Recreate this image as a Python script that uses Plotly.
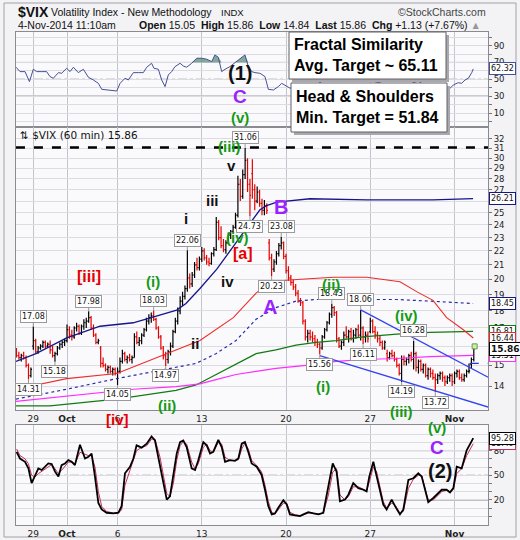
import numpy as np
import plotly.graph_objects as go

# ---------------- data ----------------
# trading sessions (0 = Mon 29-Sep-2014); 7 hourly bars per session, last session partial
session_day = list(range(-1, 27))
bars_per_session = [7] * 27 + [2]

bar_open = [
    15.6, 15.5, 15.4, 15.5, 15.4, 15.0, 14.5,
    16.0, 16.3, 15.7, 15.9, 16.0, 16.2, 16.0,
    16.1, 15.8, 15.5, 15.6, 15.9, 16.1, 16.2,
    16.3, 16.9, 16.6, 16.5, 17.0, 17.1, 16.7,
    17.1, 17.3, 17.4, 17.6, 17.0, 16.6, 16.2,
    15.9, 15.1, 15.0, 14.8, 14.9, 14.7, 14.8,
    14.6, 14.7, 15.2, 15.6, 15.3, 15.4, 15.3,
    15.4, 16.5, 16.2, 16.3, 16.6, 16.9, 17.4,
    17.6, 17.7, 17.5, 17.0, 16.5, 15.9, 15.5,
    15.3, 15.7, 16.0, 16.8, 17.4, 18.0, 18.6,
    18.9, 19.4, 20.1, 19.7, 20.3, 21.0, 20.8,
    21.4, 22.0, 21.5, 21.2, 21.1, 21.8, 22.1,
    24.2, 23.0, 22.4, 22.1, 22.6, 23.2, 23.5,
    23.8, 24.8, 27.5, 26.4, 28.4, 29.8, 27.5,
    28.5, 27.0, 26.0, 26.8, 25.8, 25.2, 25.6,
    22.6, 21.5, 20.7, 21.2, 21.8, 22.4, 22.6,
    21.6, 20.6, 20.1, 19.8, 19.5, 19.1, 18.6,
    18.5, 17.4, 16.5, 16.7, 16.5, 16.4, 16.2,
    16.1, 15.9, 16.5, 16.9, 17.3, 17.8, 18.2,
    17.9, 16.4, 16.0, 16.2, 16.6, 16.5, 16.8,
    16.4, 16.6, 16.9, 16.6, 17.0, 16.5, 16.6,
    16.8, 17.4, 16.8, 16.6, 16.4, 16.2, 15.9,
    15.6, 15.4, 15.6, 15.5, 15.3, 15.0, 14.6,
    15.3, 15.2, 15.3, 15.5, 15.3, 15.6, 14.9,
    15.2, 14.8, 15.0, 14.5, 14.8, 14.6, 14.4,
    14.3, 14.5, 14.6, 14.4, 14.2, 14.4, 14.5,
    14.2, 14.6, 14.7, 14.4, 14.3, 14.5, 14.7,
    15.05, 15.3,
]
bar_high = [
    15.9, 15.7, 15.6, 15.7, 15.5, 15.1, 14.9,
    17.08, 16.4, 16.0, 16.1, 16.3, 16.3, 16.2,
    16.3, 16.0, 15.7, 16.0, 16.2, 16.3, 16.4,
    17.2, 17.1, 16.9, 17.1, 17.3, 17.2, 17.2,
    17.5, 17.6, 17.98, 17.7, 17.2, 16.7, 16.4,
    16.0, 15.4, 15.1, 15.0, 15.0, 14.9, 14.9,
    14.9, 15.4, 15.8, 15.7, 15.5, 15.6, 15.5,
    16.7, 16.8, 16.5, 16.7, 17.0, 17.6, 17.8,
    17.9, 18.03, 17.6, 17.1, 16.6, 16.0, 15.7,
    15.8, 16.2, 16.9, 17.6, 18.2, 18.9, 19.2,
    19.6, 22.06, 20.4, 20.5, 21.2, 21.5, 21.6,
    22.3, 22.2, 21.7, 21.5, 21.9, 22.3, 24.65,
    24.4, 23.9, 22.9, 22.8, 23.4, 23.6, 24.0,
    25.0, 28.3, 28.0, 28.9, 31.06, 30.0, 28.0,
    29.9, 27.5, 27.3, 27.0, 26.2, 26.1, 25.8,
    22.9, 21.8, 21.4, 22.0, 22.6, 23.08, 22.7,
    21.8, 20.9, 20.3, 20.0, 19.7, 19.3, 18.8,
    18.6, 17.5, 16.9, 16.9, 16.8, 16.6, 16.4,
    16.2, 16.6, 17.0, 17.4, 17.9, 18.43, 18.3,
    18.0, 16.5, 16.3, 16.8, 17.1, 16.9, 17.0,
    16.9, 17.0, 17.2, 18.06, 17.1, 16.8, 16.8,
    17.6, 17.5, 17.1, 16.8, 16.6, 16.3, 16.3,
    15.8, 15.7, 15.8, 15.7, 15.4, 15.1, 15.5,
    15.5, 15.4, 15.6, 15.7, 16.28, 15.7, 15.3,
    15.3, 15.1, 15.1, 14.9, 14.9, 14.8, 14.6,
    14.6, 14.7, 14.7, 14.5, 14.5, 14.6, 14.6,
    14.7, 14.8, 14.8, 14.6, 14.6, 14.8, 15.1,
    15.4, 15.86,
]
bar_low = [
    15.4, 15.3, 15.2, 15.3, 14.9, 14.31, 14.4,
    15.8, 15.6, 15.6, 15.8, 15.9, 15.9, 15.9,
    15.6, 15.4, 15.18, 15.5, 15.8, 15.9, 16.0,
    16.2, 16.4, 16.3, 16.4, 16.8, 16.6, 16.6,
    16.9, 17.0, 17.3, 16.9, 16.5, 16.1, 16.1,
    14.9, 14.9, 14.7, 14.6, 14.6, 14.5, 14.5,
    14.05, 14.6, 15.1, 15.2, 15.1, 15.2, 15.1,
    15.4, 16.1, 16.0, 16.1, 16.5, 16.8, 17.2,
    17.3, 17.4, 16.9, 16.4, 15.8, 15.3, 14.97,
    15.1, 15.5, 15.9, 16.7, 17.2, 17.8, 18.3,
    18.7, 19.2, 19.4, 19.5, 20.1, 20.6, 20.6,
    21.2, 21.3, 21.0, 20.9, 21.0, 21.6, 22.0,
    22.8, 22.2, 21.9, 21.8, 22.5, 22.9, 23.3,
    23.7, 24.6, 26.0, 26.2, 28.0, 26.8, 24.73,
    26.2, 25.2, 25.8, 25.5, 24.8, 24.8, 24.9,
    21.3, 20.23, 20.5, 21.0, 21.6, 22.1, 21.4,
    20.4, 19.9, 19.6, 19.3, 18.9, 18.5, 18.3,
    17.2, 16.3, 16.2, 16.3, 16.2, 16.0, 15.9,
    15.56, 15.8, 16.4, 16.8, 17.2, 17.6, 17.7,
    16.2, 15.9, 15.8, 16.0, 16.4, 16.2, 16.3,
    16.2, 16.4, 16.5, 16.3, 16.11, 16.2, 16.2,
    16.7, 16.7, 16.4, 16.2, 16.0, 15.8, 15.8,
    15.2, 15.3, 15.4, 15.2, 14.9, 14.5, 14.19,
    15.0, 15.0, 15.1, 15.2, 14.8, 14.7, 14.6,
    14.7, 14.6, 14.4, 14.3, 14.4, 14.3, 13.72,
    14.1, 14.3, 14.2, 14.0, 14.1, 14.2, 14.0,
    14.1, 14.4, 14.3, 14.2, 14.2, 14.4, 14.6,
    14.84, 15.2,
]
bar_close = [
    15.5, 15.4, 15.5, 15.4, 15.0, 14.5, 14.8,
    16.3, 15.7, 15.9, 16.0, 16.2, 16.0, 16.1,
    15.8, 15.5, 15.6, 15.9, 16.1, 16.2, 16.3,
    16.9, 16.6, 16.5, 17.0, 17.1, 16.7, 17.1,
    17.3, 17.4, 17.6, 17.0, 16.6, 16.2, 16.3,
    15.1, 15.0, 14.8, 14.9, 14.7, 14.8, 14.6,
    14.7, 15.2, 15.6, 15.3, 15.4, 15.3, 15.4,
    16.5, 16.2, 16.3, 16.6, 16.9, 17.4, 17.6,
    17.7, 17.5, 17.0, 16.5, 15.9, 15.5, 15.3,
    15.7, 16.0, 16.8, 17.4, 18.0, 18.6, 18.9,
    19.4, 20.1, 19.7, 20.3, 21.0, 20.8, 21.4,
    22.0, 21.5, 21.2, 21.1, 21.8, 22.1, 24.2,
    23.0, 22.4, 22.1, 22.6, 23.2, 23.5, 23.8,
    24.8, 27.5, 26.4, 28.4, 29.8, 27.5, 26.5,
    27.0, 26.0, 26.8, 25.8, 25.2, 25.6, 25.2,
    21.5, 20.7, 21.2, 21.8, 22.4, 22.6, 21.6,
    20.6, 20.1, 19.8, 19.5, 19.1, 18.6, 18.5,
    17.4, 16.5, 16.7, 16.5, 16.4, 16.2, 16.1,
    15.9, 16.5, 16.9, 17.3, 17.8, 18.2, 17.9,
    16.4, 16.0, 16.2, 16.6, 16.5, 16.8, 16.4,
    16.6, 16.9, 16.6, 17.0, 16.5, 16.6, 16.4,
    17.4, 16.8, 16.6, 16.4, 16.2, 15.9, 16.2,
    15.4, 15.6, 15.5, 15.3, 15.0, 14.6, 15.3,
    15.2, 15.3, 15.5, 15.3, 15.6, 14.9, 15.2,
    14.8, 15.0, 14.5, 14.8, 14.6, 14.4, 14.3,
    14.5, 14.6, 14.4, 14.2, 14.4, 14.5, 14.2,
    14.6, 14.7, 14.4, 14.3, 14.5, 14.7, 14.73,
    15.3, 15.86,
]

# moving averages on price panel (day, value)
ma_blue_day = [-1.03, 0.16, 1.98, 3.96, 5.93, 7.12, 8.51, 9.06, 9.89, 10.89, 11.87, 12.86, 13.45, 13.85, 14.45, 16.42, 19.79, 23.72, 26.10]
ma_blue_val = [15.2, 15.6, 16.45, 17.1, 17.3, 17.65, 18.05, 18.45, 19.4, 20.7, 22.35, 24.1, 25.25, 25.6, 25.9, 26.2, 26.1, 26.1, 26.21]
ma_red_day = [-1.03, 1.98, 4.95, 7.92, 9.89, 11.87, 13.22, 14.0, 15.0, 16.36, 17.81, 19.79, 21.76, 22.75, 23.72, 24.53, 25.52, 26.11]
ma_red_val = [13.85, 14.35, 14.6, 15.6, 16.3, 17.6, 19.1, 19.8, 19.95, 20.05, 20.15, 20.15, 19.85, 19.2, 18.65, 17.6, 16.9, 16.44]
ma_dot_day = [-1.03, 1.98, 4.95, 7.92, 9.66, 10.84, 12.03, 13.22, 14.40, 15.59, 16.78, 17.96, 21.57, 23.54, 26.10]
ma_dot_val = [13.4, 13.85, 14.35, 14.8, 15.1, 15.6, 16.3, 17.5, 18.2, 18.6, 18.7, 18.7, 18.7, 18.6, 18.45]
ma_green_day = [-1.03, 0.99, 4.95, 8.47, 9.66, 10.84, 12.03, 13.22, 14.40, 15.59, 16.78, 17.96, 19.57, 21.57, 23.54, 26.10]
ma_green_val = [13.1, 13.1, 13.4, 13.8, 14.05, 14.55, 15.05, 15.6, 15.8, 16.05, 16.2, 16.3, 16.5, 16.65, 16.75, 16.81]
ma_mag_day = [-1.03, 1.98, 5.92, 8.47, 9.89, 10.84, 12.03, 13.22, 14.40, 15.59, 16.78, 17.96, 19.57, 21.57, 23.54, 26.10]
ma_mag_val = [13.3, 13.55, 13.85, 13.97, 14.1, 14.3, 14.55, 14.7, 14.85, 14.95, 15.05, 15.2, 15.3, 15.35, 15.45, 15.51]

# drawn trend lines
chan_upper_day = [19.43, 26.99]
chan_upper_val = [18.06, 14.42]
chan_lower_day = [17.0, 26.99]
chan_lower_val = [15.5, 13.05]
break_day = [25.9, 26.99]
break_val = [15.1, 15.1]
target_day = [-1.03, 26.99]
target_val = [31.1, 31.1]

# RSI panel
rsi_day = [-1.02, -0.79, -0.49, -0.23, 0.00, 0.20, 0.50, 0.79, 0.99, 1.19, 1.49, 1.68, 1.98, 2.18, 2.38, 2.67,
           2.97, 3.27, 3.56, 3.86, 4.06, 4.35, 4.65, 4.95, 5.15, 5.44, 5.64, 5.94, 6.23, 6.53, 6.73, 7.02,
           7.16, 7.42, 7.62, 7.82, 8.01, 8.21, 8.41, 8.71, 8.90, 9.10, 9.40, 9.70, 9.99, 10.29, 10.59, 10.78,
           10.98, 11.18, 11.38, 11.67, 11.97, 12.23, 12.56, 12.76, 12.96, 13.16, 13.45, 13.75, 13.95, 14.25,
           14.54, 14.74, 15.04, 15.23, 15.83, 16.82, 17.81, 18.80, 19.78, 20.77, 21.76, 22.85, 23.74, 24.63,
           24.93, 25.22, 25.42, 25.62, 25.82, 26.02, 26.11]
rsi_val = [64.3, 59.1, 59.1, 47.2, 61.9, 59.1, 59.1, 59.1, 53.2, 51.2, 57.9, 57.1, 63.1, 59.1, 64.3, 57.9,
           61.9, 52.4, 49.2, 45.2, 38.1, 37.3, 36.5, 36.1, 45.2, 51.2, 49.2, 57.9, 57.9, 57.9, 64.3, 69.0,
           63.1, 61.9, 49.2, 41.3, 55.1, 59.1, 65.0, 69.0, 65.8, 64.3, 69.0, 75.0, 75.0, 73.8, 71.0, 78.9,
           76.1, 59.1, 61.9, 65.0, 69.8, 73.8, 78.9, 65.0, 59.1, 57.9, 57.1, 53.2, 38.1, 37.3,
           41.3, 45.2, 41.3, 39.5, 40.0, 44.0, 55.0, 48.0, 49.5, 45.0, 40.0, 48.0, 35.0, 37.3,
           43.3, 46.0, 45.2, 49.2, 51.2, 57.9, 62.32]

# stochastic panel
sto_day = [-0.99, -0.79, -0.49, -0.29, -0.10, 0.10, 0.30, 0.50, 0.69, 0.89,
           1.09, 1.29, 1.49, 1.68, 1.88, 2.08, 2.28, 2.47, 2.77, 3.07,
           3.27, 3.46, 3.66, 3.86, 4.06, 4.35, 4.75, 5.05, 5.24, 5.44,
           5.74, 5.94, 6.13, 6.43, 6.73, 7.02, 7.22, 7.52, 7.72, 7.92,
           8.11, 8.31, 8.51, 8.71, 8.90, 9.10, 9.40, 9.60, 9.79, 10.09,
           10.29, 10.49, 10.68, 10.98, 11.18, 11.38, 11.67, 11.97, 12.17, 12.37,
           12.56, 12.76, 12.96, 13.26, 13.55, 13.75, 13.95, 14.15, 14.34, 14.54,
           14.84, 15.04, 15.23, 15.53, 15.83, 16.03, 16.32, 16.62, 16.92, 17.21,
           17.51, 17.77, 18.00, 18.20, 18.50, 18.70, 18.99, 19.29, 19.59, 19.78,
           19.94, 20.18, 20.38, 20.58, 20.77, 20.97, 21.27, 21.47, 21.76, 21.96,
           22.26, 22.55, 22.85, 23.05, 23.25, 23.44, 23.74, 23.94, 24.24, 24.53,
           24.73, 24.93, 25.13, 25.42, 25.72, 26.11]
sto_k = [78.4, 70.4, 66.4, 58.4, 40.4, 50.4, 58.4, 56.4, 60.4, 64.4,
         63.6, 54.4, 48.4, 62.4, 64.4, 68.4, 66.4, 62.4, 87.2, 70.4,
         72.4, 76.4, 48.4, 16.4, 8.4, 4.4, 3.6, 4.4, 12.4, 52.4,
         60.4, 70.4, 86.4, 83.6, 88.4, 97.2, 92.4, 62.4, 44.4, 20.4,
         24.4, 48.4, 76.4, 90.4, 92.4, 84.4, 58.4, 56.4, 68.4, 90.4,
         86.4, 76.4, 78.4, 93.2, 84.4, 66.4, 68.4, 67.6, 70.4, 88.4,
         90.4, 78.4, 64.4, 60.4, 50.4, 32.4, 12.4, 2.4, 3.6, 10.4,
         19.6, 14.4, 2.4, 1.2, 0.4, 2.4, 5.2, 3.6, 2.4, 4.4,
         36.4, 64.4, 54.4, 18.4, 20.4, 26.4, 40.4, 34.4, 32.4, 30.4,
         48.4, 66.4, 48.4, 30.4, 14.4, 8.4, 20.4, 12.4, 2.4, 8.4,
         44.4, 46.4, 52.4, 48.4, 30.4, 17.2, 22.4, 26.4, 32.4, 32.4,
         29.2, 34.4, 60.4, 58.4, 80.4, 95.28]
sto_d = [82, 74, 70, 64, 50, 48, 52, 55, 58, 61,
         63, 58, 52, 56, 61, 66, 66, 64, 78, 76,
         74, 74, 60, 30, 12, 6, 4, 4, 8, 38,
         56, 66, 80, 84, 86, 94, 94, 72, 50, 28,
         24, 40, 68, 86, 91, 88, 66, 58, 64, 84,
         88, 80, 78, 90, 88, 72, 68, 68, 69, 82,
         89, 82, 68, 62, 54, 38, 18, 5, 3, 8,
         16, 16, 5, 2, 1, 2, 4, 4, 3, 4,
         26, 54, 58, 26, 20, 24, 36, 36, 33, 31,
         42, 60, 54, 36, 18, 10, 16, 14, 4, 6,
         34, 45, 50, 50, 36, 20, 20, 24, 30, 32,
         30, 33, 52, 58, 74, 88.49]

date_tick_day = [0, 2, 5, 10, 15, 20, 25]
date_tick_text = ["29", "<b>Oct</b>", "6", "13", "20", "27", "<b>Nov</b>"]
price_ticks = list(range(14, 33))
osc_ticks = list(range(0, 101, 10))
rsi_labels = [10, 30, 50, 70, 90]
sto_labels = [20, 50, 80]

high_labels = [17.08, 17.98, 18.03, 22.06, 31.06, 23.08, 18.43, 18.06, 16.28]
low_labels = [14.31, 15.18, 14.05, 14.97, 24.73, 20.23, 15.56, 16.11, 14.19, 13.72]

# ---------------- layout helpers ----------------
X_LO, X_HI = -1.027, 26.985
PW, PH = 472.0, 493.0


def PX(x):
    return (x - 16) / PW


def PY(y):
    return (525 - y) / PH


bar_x = [d + k / 7.0 for d, n in zip(session_day, bars_per_session) for k in range(n)]

GRID = "#dcdce2"
VGRID = "#c4c4cc"
FONT = "DejaVu Sans"
ARIAL = "Liberation Sans"

fig = go.Figure()

# ---- RSI panel ----
rsi_fill = [max(v, 70) for v in rsi_val]
fig.add_trace(go.Scatter(x=rsi_day, y=[70] * len(rsi_day), mode="lines", line=dict(width=0),
                         xaxis="x", yaxis="y", hoverinfo="skip"))
fig.add_trace(go.Scatter(x=rsi_day, y=rsi_fill, mode="lines", line=dict(width=0), fill="tonexty",
                         fillcolor="rgba(95,140,120,0.75)", xaxis="x", yaxis="y", hoverinfo="skip"))
fig.add_trace(go.Scatter(x=rsi_day, y=rsi_val, mode="lines", line=dict(color="#44509a", width=1),
                         xaxis="x", yaxis="y", hoverinfo="skip"))

# ---- price panel ----
fig.add_trace(go.Scatter(x=target_day, y=target_val, mode="lines",
                         line=dict(color="black", width=2.5, dash="dash"), xaxis="x2", yaxis="y2"))
fig.add_trace(go.Scatter(x=ma_green_day, y=ma_green_val, mode="lines", line=dict(color="#137a13", width=1.2),
                         xaxis="x2", yaxis="y2"))
fig.add_trace(go.Scatter(x=ma_mag_day, y=ma_mag_val, mode="lines", line=dict(color="#ff2cff", width=1.2),
                         xaxis="x2", yaxis="y2"))
fig.add_trace(go.Scatter(x=ma_dot_day, y=ma_dot_val, mode="lines",
                         line=dict(color="#2a2aa8", width=1.2, dash="dot"), xaxis="x2", yaxis="y2"))
fig.add_trace(go.Scatter(x=ma_red_day, y=ma_red_val, mode="lines", line=dict(color="#ee2b2b", width=1.1),
                         xaxis="x2", yaxis="y2"))
fig.add_trace(go.Scatter(x=ma_blue_day, y=ma_blue_val, mode="lines", line=dict(color="#16168a", width=1.3),
                         xaxis="x2", yaxis="y2"))
fig.add_trace(go.Scatter(x=chan_upper_day, y=chan_upper_val, mode="lines", line=dict(color="#3444ee", width=1.3),
                         xaxis="x2", yaxis="y2"))
fig.add_trace(go.Scatter(x=chan_lower_day, y=chan_lower_val, mode="lines", line=dict(color="#3444ee", width=1.3),
                         xaxis="x2", yaxis="y2"))
fig.add_trace(go.Scatter(x=break_day, y=break_val, mode="lines", line=dict(color="#2233dd", width=1.3, dash="dash"),
                         xaxis="x2", yaxis="y2"))
fig.add_trace(go.Ohlc(x=bar_x, open=bar_open, high=bar_high, low=bar_low, close=bar_close,
                      increasing=dict(line=dict(color="black", width=1.2)),
                      decreasing=dict(line=dict(color="#e60000", width=1.2)),
                      tickwidth=0.45, xaxis="x2", yaxis="y2", hoverinfo="skip"))
fig.add_trace(go.Scatter(x=[bar_x[-1] + 0.05], y=[bar_high[-1] * 1.008], mode="markers",
                         marker=dict(symbol="square", size=5, color="#c9f2a6", line=dict(color="#6a9a50", width=1)),
                         xaxis="x2", yaxis="y2"))

# ---- stochastic panel ----
fig.add_trace(go.Scatter(x=sto_day, y=sto_d, mode="lines", line=dict(color="#c8305c", width=1),
                         xaxis="x3", yaxis="y3"))
fig.add_trace(go.Scatter(x=sto_day, y=sto_k, mode="lines", line=dict(color="#000000", width=1.8),
                         xaxis="x3", yaxis="y3"))

# ---------------- axes ----------------
xcommon = dict(range=[X_LO, X_HI], tickmode="array", tickvals=date_tick_day, ticktext=date_tick_text,
               showgrid=True, gridcolor=VGRID, gridwidth=1, zeroline=False, showline=True, mirror=True,
               linecolor="#8a8a90", ticks="", automargin=False, tickfont=dict(family=FONT, size=9, color="#222"))
ycommon = dict(side="right", tickmode="array", showgrid=True, gridcolor=GRID, zeroline=False, showline=True,
               mirror=True, linecolor="#8a8a90", ticks="outside", ticklen=3, tickcolor="#777", automargin=False,
               tickfont=dict(family=FONT, size=8.5, color="#222"))

fig.update_layout(
    width=520, height=540,
    margin=dict(l=16, r=32, t=32, b=15, autoexpand=False),
    paper_bgcolor="#f3f3f6", plot_bgcolor="#fafafc",
    showlegend=False, hovermode=False,
    xaxis=dict(xcommon, domain=[0, 1], anchor="y", showticklabels=False),
    yaxis=dict(ycommon, domain=[PY(127), 1.0], range=[-6.6, 106.1],
               tickvals=osc_ticks, ticktext=[str(v) if v in rsi_labels else "" for v in osc_ticks]),
    xaxis2=dict(xcommon, domain=[0, 1], anchor="y2", showticklabels=True, rangeslider=dict(visible=False)),
    yaxis2=dict(ycommon, domain=[PY(410), PY(127)], type="log", range=[np.log10(12.92), np.log10(33.31)],
                tickvals=price_ticks, ticktext=[str(v) for v in price_ticks]),
    xaxis3=dict(xcommon, domain=[0, 1], anchor="y3", showticklabels=True),
    yaxis3=dict(ycommon, domain=[0, PY(425)], range=[-10.5, 111.2],
                tickvals=osc_ticks, ticktext=[str(v) if v in sto_labels else "" for v in osc_ticks]),
)

# ---------------- shapes ----------------
shapes = []
for yr, lv, dash in [("y", 70, "solid"), ("y", 30, "solid"), ("y", 50, "dashdot"),
                     ("y3", 80, "solid"), ("y3", 20, "solid"), ("y3", 50, "dashdot")]:
    shapes.append(dict(type="line", xref="paper", x0=0, x1=1, yref=yr, y0=lv, y1=lv,
                       line=dict(color="#7a7a80", width=1, dash=dash), layer="between"))
# outer frame
shapes.append(dict(type="rect", xref="paper", yref="paper", x0=PX(4), x1=PX(516), y0=PY(537), y1=PY(3),
                   line=dict(color="#a0a0a8", width=1), fillcolor="rgba(0,0,0,0)", layer="below"))
# note boxes with shadows
for (x0, y0, x1, y1) in [(289, 32, 446, 79), (291, 83, 447, 132)]:
    shapes.append(dict(type="rect", xref="paper", yref="paper", x0=PX(x0 + 3), x1=PX(x1 + 3),
                       y0=PY(y1 + 3), y1=PY(y0 + 3), line=dict(width=0), fillcolor="#a8a8ae", layer="above"))
    shapes.append(dict(type="rect", xref="paper", yref="paper", x0=PX(x0), x1=PX(x1),
                       y0=PY(y1), y1=PY(y0), line=dict(color="#606066", width=1), fillcolor="white",
                       layer="above"))
fig.update_layout(shapes=shapes)

# ---------------- annotations ----------------
ann = []

# header
ann.append(dict(text="<b>$VIX</b>", x=PX(16), y=PY(12), xref="paper", yref="paper", showarrow=False,
                xanchor="left", yanchor="middle", font=dict(family=ARIAL, size=14, color="#111")))
ann.append(dict(text="Volatility Index - New Methodology", x=PX(49), y=PY(12), xref="paper", yref="paper",
                showarrow=False, xanchor="left", yanchor="middle", font=dict(family=ARIAL, size=10.5, color="#111")))
ann.append(dict(text="INDX", x=PX(219), y=PY(12.5), xref="paper", yref="paper", showarrow=False,
                xanchor="left", yanchor="middle", font=dict(family=ARIAL, size=9.5, color="#111")))
ann.append(dict(text="©StockCharts.com", x=PX(488), y=PY(12), xref="paper", yref="paper", showarrow=False,
                xanchor="right", yanchor="middle", font=dict(family=ARIAL, size=10.5, color="#444")))
ann.append(dict(text="4-Nov-2014 11:10am", x=PX(16), y=PY(25), xref="paper", yref="paper", showarrow=False,
                xanchor="left", yanchor="middle", font=dict(family=ARIAL, size=10.5, color="#111")))
ann.append(dict(text="<b>Open</b> 15.05  <b>High</b> 15.86  <b>Low</b> 14.84  <b>Last</b> 15.86  "
                     "<b>Chg</b> +1.13 (+7.67%) <span style='color:#999'>▲</span>",
                x=PX(137), y=PY(25), xref="paper", yref="paper", showarrow=False,
                xanchor="left", yanchor="middle", font=dict(family=ARIAL, size=10.5, color="#111")))
ann.append(dict(text="⇅ $VIX (60 min) 15.86", x=PX(18), y=PY(135), xref="paper", yref="paper",
                showarrow=False, xanchor="left", yanchor="middle", font=dict(family=FONT, size=10.5, color="#111")))

# note box texts
ann.append(dict(text="<b>Fractal Similarity<br>Avg. Target ~ 65.11</b>", x=PX(292), y=PY(34), xref="paper",
                yref="paper", showarrow=False, xanchor="left", yanchor="top", align="left",
                font=dict(family=ARIAL, size=16, color="black")))
ann.append(dict(text="<b>Head &amp; Shoulders<br>Min. Target = 51.84</b>", x=PX(294), y=PY(86), xref="paper",
                yref="paper", showarrow=False, xanchor="left", yanchor="top", align="left",
                font=dict(family=ARIAL, size=16, color="black")))


# price pivot labels
def price_box(val, is_high):
    arr = bar_high if is_high else bar_low
    idx = int(np.argmin([abs(a - val) for a in arr]))
    ann.append(dict(text=f"{val:.2f}", x=bar_x[idx], y=np.log10(val), xref="x2", yref="y2",
                    showarrow=True, arrowhead=0, arrowwidth=1, arrowcolor="#999", ax=0, ay=-10 if is_high else 10,
                    bgcolor="white", bordercolor="#9a9a9a", borderwidth=1, borderpad=1,
                    font=dict(family=FONT, size=8, color="#111")))


for v in high_labels:
    price_box(v, True)
for v in low_labels:
    price_box(v, False)

# Elliott wave labels
GREEN, RED, PURPLE, BLACK = "#159a15", "#e60000", "#9a22ff", "#111111"
wave_labels = [
    ("(1)", 240, 73, BLACK, 20), ("C", 240, 97, PURPLE, 19), ("(v)", 240, 117, GREEN, 15),
    ("(iii)", 229, 146, GREEN, 15), ("v", 231, 165, BLACK, 15), ("iii", 212, 201, BLACK, 15),
    ("i", 186, 218, BLACK, 15), ("(iv)", 237, 237, GREEN, 15), ("[a]", 243, 253, RED, 16),
    ("iv", 227, 281, BLACK, 15), ("B", 281, 207, PURPLE, 20), ("A", 270, 307, PURPLE, 20),
    ("(ii)", 331, 284, GREEN, 15), ("(iv)", 406, 316, GREEN, 15), ("(i)", 323, 386, GREEN, 15),
    ("(iii)", 401, 411, GREEN, 15), ("(v)", 437, 427, GREEN, 15), ("C", 437, 447, PURPLE, 19),
    ("(2)", 440, 471, BLACK, 20), ("[iv]", 117, 419, RED, 15), ("[iii]", 89, 276, RED, 16),
    ("(i)", 153, 281, GREEN, 15), ("ii", 195, 343, BLACK, 15), ("(ii)", 167, 405, GREEN, 15),
]
for t, x, y, c, s in wave_labels:
    ann.append(dict(text=f"<b>{t}</b>", x=PX(x), y=PY(y), xref="paper", yref="paper", showarrow=False,
                    xanchor="center", yanchor="middle", font=dict(family=ARIAL, size=s, color=c)))


# right-hand value tags
def tag(val, yref, color, bold=False, size=8):
    y = float(np.log10(val)) if yref == "y2" else val
    txt = f"{val:.2f}"
    ann.append(dict(text=f"<b>{txt}</b>" if bold else txt, x=PX(489), y=y, xref="paper", yref=yref,
                    showarrow=False, xanchor="left", yanchor="middle", bgcolor="white", bordercolor=color,
                    borderwidth=1, borderpad=1, font=dict(family=FONT, size=size, color="#111")))


tag(rsi_val[-1], "y", "#44509a")
tag(ma_blue_val[-1], "y2", "#16168a")
tag(ma_dot_val[-1], "y2", "#16168a")
tag(ma_green_val[-1], "y2", "#137a13")
tag(ma_red_val[-1], "y2", "#ee2b2b")
tag(ma_mag_val[-1], "y2", "#ff2cff")
tag(bar_close[-1], "y2", "black", bold=True, size=9)
tag(sto_d[-1], "y3", "#c8305c")
tag(sto_k[-1], "y3", "black")

fig.update_layout(annotations=ann)

fig.write_html("out.html", config={"displayModeBar": False},
               post_script="document.body.style.margin='0px';")
